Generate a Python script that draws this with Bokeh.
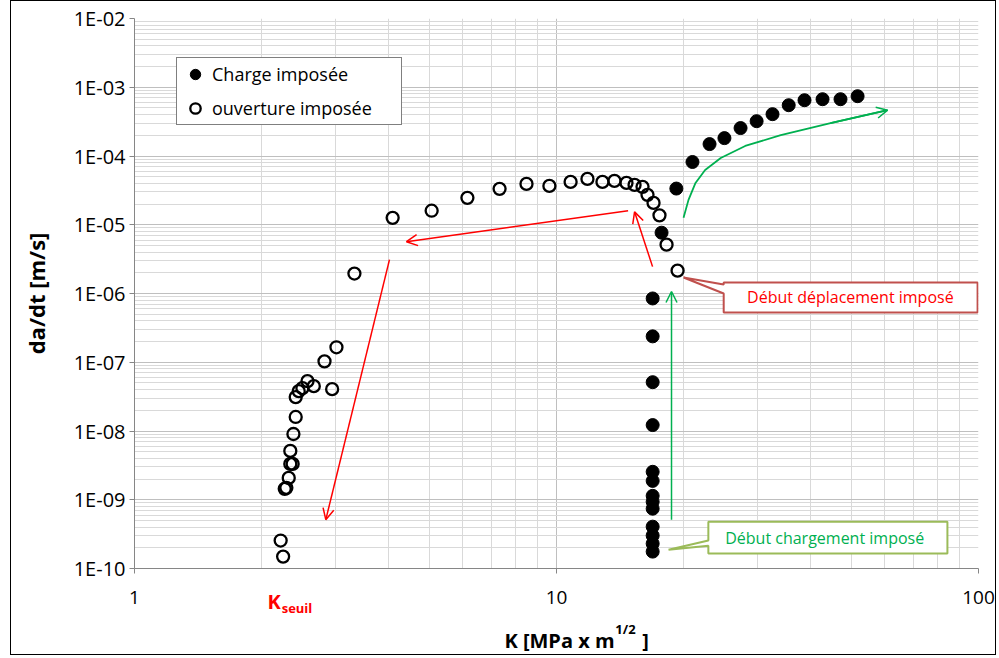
from bokeh.plotting import figure
from bokeh.models import (Range1d, FixedTicker, CustomJSTickFormatter, Legend, LegendItem,
                          Arrow, OpenHead, LinearAxis)
from bokeh.embed import file_html
from bokeh.resources import INLINE
from bokeh.core.properties import value

FONT = "Open Sans"

# ---------------- data ----------------
# Charge imposée (filled circles)
k_charge = [16.9, 16.9, 16.9, 16.9, 16.9, 16.9, 16.9, 16.9, 16.9, 16.9, 16.9, 16.9, 16.9,
            17.74, 19.23, 21.0, 23.05, 25.0, 27.3, 29.8, 32.5, 35.5, 38.7, 42.7, 47.1, 51.7]
v_charge = [8.47e-7, 2.38e-7, 5.13e-8, 1.22e-8, 2.55e-9, 1.88e-9, 1.14e-9, 9.35e-10, 7.41e-10,
            4.06e-10, 3.01e-10, 2.30e-10, 1.76e-10,
            7.66e-6, 3.36e-5, 8.18e-5, 1.49e-4, 1.82e-4, 2.55e-4, 3.21e-4, 4.06e-4, 5.48e-4,
            6.48e-4, 6.70e-4, 6.70e-4, 7.41e-4]

# ouverture imposée (open circles)
k_ouv = [2.22, 2.25, 2.27, 2.29, 2.32, 2.34, 2.37, 2.34, 2.38, 2.41, 2.41, 2.45, 2.50, 2.57,
         2.66, 2.94, 2.82, 3.01, 3.32, 4.09, 5.06, 6.15, 7.33, 8.49, 9.62, 10.8, 11.84, 12.85,
         13.72, 14.65, 15.31, 15.99, 16.43, 16.98, 17.54, 18.23, 19.36]
v_ouv = [2.55e-10, 1.49e-10, 1.44e-9, 1.49e-9, 2.08e-9, 3.32e-9, 3.32e-9, 5.13e-9, 9.05e-9,
         1.60e-8, 3.11e-8, 3.80e-8, 4.20e-8, 5.31e-8, 4.49e-8, 4.06e-8, 1.03e-7, 1.65e-7,
         1.95e-6, 1.26e-5, 1.60e-5, 2.46e-5, 3.33e-5, 3.93e-5, 3.67e-5, 4.20e-5, 4.64e-5,
         4.20e-5, 4.34e-5, 4.06e-5, 3.80e-5, 3.56e-5, 2.72e-5, 2.08e-5, 1.37e-5, 5.13e-6, 2.15e-6]

# annotation arrows
red_x0 = [16.89, 14.78, 4.02]
red_y0 = [2.46e-6, 1.60e-5, 3.11e-6]
red_x1 = [15.31, 4.41, 2.84]
red_y1 = [1.54e-5, 5.67e-6, 5.13e-10]
green_arrow_x = [18.73, 18.73]
green_arrow_y = [5.13e-10, 1.07e-6]
green_curve_k = [20.0, 20.55, 21.35, 22.5, 24.5, 28.0, 34.0, 44.6, 60.9]
green_curve_v = [1.26e-5, 2.30e-5, 4.06e-5, 6.27e-5, 9.35e-5, 1.40e-4, 2.01e-4, 3.01e-4, 4.64e-4]

# callouts (polygon outline with pointer)
call1_x = [24.9, 99.5, 99.5, 24.9, 24.9, 20.0, 24.9]
call1_y = [1.44e-6, 1.44e-6, 5.31e-7, 5.31e-7, 1.0e-6, 1.71e-6, 1.35e-6]
call1_text = "Début déplacement imposé"
call1_pos = (49.7, 8.75e-7)
call2_x = [22.9, 84.4, 84.4, 22.9, 22.9, 18.43, 22.9]
call2_y = [4.80e-10, 4.80e-10, 1.65e-10, 1.65e-10, 2.15e-10, 1.88e-10, 2.55e-10]
call2_text = "Début chargement imposé"
call2_pos = (43.2, 2.81e-10)

x_ticks = [1, 10, 100]
y_ticks = [1e-10, 1e-9, 1e-8, 1e-7, 1e-6, 1e-5, 1e-4, 1e-3, 1e-2]
x_minor = [2, 3, 4, 5, 6, 7, 8, 9, 20, 30, 40, 50, 60, 70, 80, 90]
y_minor = [m * t for t in y_ticks[:-1] for m in (2, 3, 4, 5, 6, 7, 8, 9)]

# texts below the frame, set as tick labels of label-only axes (x position = K value)
kseuil_k_pos, kseuil_k_text = [2.141], ["K"]
kseuil_sub_pos, kseuil_sub_text = [2.427], ["seuil"]
xlabel_main_pos, xlabel_main_text = [10.165, 16.25], ["K [MPa x m", "]"]
xlabel_sup_pos, xlabel_sup_text = [14.57], ["1/2"]

# ---------------- figure ----------------
p = figure(width=986, height=655, x_axis_type="log", y_axis_type="log",
           x_range=Range1d(1, 100), y_range=Range1d(1e-10, 1e-2),
           output_backend="svg", toolbar_location=None,
           min_border_left=123, min_border_right=19, min_border_top=17, min_border_bottom=86)
p.styles = {"border": "1px solid #000000", "margin-left": "10px"}
p.outline_line_color = None
p.background_fill_color = "white"
p.border_fill_color = "white"

xt = FixedTicker(ticks=x_ticks, minor_ticks=x_minor)
yt = FixedTicker(ticks=y_ticks, minor_ticks=y_minor)
p.xaxis.ticker = xt
p.yaxis.ticker = yt
p.xgrid.ticker = xt
p.ygrid.ticker = yt
for g in (p.xgrid, p.ygrid):
    g.grid_line_color = "#bfbfbf"
    g.grid_line_width = 1
    g.minor_grid_line_color = "#d9d9d9"
    g.minor_grid_line_width = 1

p.xaxis.formatter = CustomJSTickFormatter(code="return String(Math.round(tick));")
p.yaxis.formatter = CustomJSTickFormatter(code="""
const e = Math.round(Math.log10(tick));
const a = Math.abs(e);
return "1E" + (e < 0 ? "-" : "+") + (a < 10 ? "0" + a : String(a));
""")
for ax in (p.xaxis, p.yaxis):
    ax.axis_line_color = "#868686"
    ax.major_tick_line_color = "#868686"
    ax.major_tick_out = 5
    ax.major_tick_in = 0
    ax.minor_tick_line_color = None
    ax.major_label_text_font = FONT
    ax.major_label_text_color = "#000000"
p.xaxis.major_label_text_font_size = "19px"
p.yaxis.major_label_text_font_size = "20px"
p.xaxis.major_label_standoff = 17
p.yaxis.major_label_standoff = 4
p.yaxis.axis_label = "da/dt [m/s]"
p.yaxis.axis_label_text_font = FONT
p.yaxis.axis_label_text_font_size = "22px"
p.yaxis.axis_label_text_font_style = "bold"
p.yaxis.axis_label_text_color = "#000000"
p.yaxis.axis_label_standoff = 20


def text_axis(pos, texts, size, color, standoff):
    ax = LinearAxis(ticker=FixedTicker(ticks=pos, minor_ticks=[]),
                    formatter=CustomJSTickFormatter(args=dict(labels=texts),
                                                    code="return labels[index];"))
    ax.axis_line_color = None
    ax.major_tick_line_color = None
    ax.minor_tick_line_color = None
    ax.major_tick_out = 0
    ax.major_tick_in = 0
    ax.minor_tick_out = 0
    ax.minor_tick_in = 0
    ax.major_label_standoff = standoff
    ax.major_label_text_font = FONT
    ax.major_label_text_font_size = size
    ax.major_label_text_font_style = "bold"
    ax.major_label_text_color = color
    p.add_layout(ax, "below")


text_axis(kseuil_sub_pos, kseuil_sub_text, "13px", "#ff0000", -8)
text_axis(kseuil_k_pos, kseuil_k_text, "20px", "#ff0000", -32)
text_axis(xlabel_sup_pos, xlabel_sup_text, "13px", "#000000", 0)
text_axis(xlabel_main_pos, xlabel_main_text, "20px", "#000000", -14)

# ---------------- annotations drawn under the data ----------------
p.patch(call1_x, call1_y, fill_color="white", line_color="#c0504d", line_width=2)
p.patch(call2_x, call2_y, fill_color="white", line_color="#9bbb59", line_width=2)
p.text(x=[call1_pos[0]], y=[call1_pos[1]], text=[call1_text], text_color="#ff0000",
       text_font=value(FONT), text_font_size="16px", text_align="center", text_baseline="middle")
p.text(x=[call2_pos[0]], y=[call2_pos[1]], text=[call2_text], text_color="#00b050",
       text_font=value(FONT), text_font_size="16px", text_align="center", text_baseline="middle")

for i in range(len(red_x0)):
    p.add_layout(Arrow(end=OpenHead(size=11, line_color="#ff0000", line_width=1.5),
                       x_start=red_x0[i], y_start=red_y0[i], x_end=red_x1[i], y_end=red_y1[i],
                       line_color="#ff0000", line_width=1.5))
p.add_layout(Arrow(end=OpenHead(size=11, line_color="#00b050", line_width=1.5),
                   x_start=green_arrow_x[0], y_start=green_arrow_y[0],
                   x_end=green_arrow_x[1], y_end=green_arrow_y[1],
                   line_color="#00b050", line_width=1.5))
p.line(green_curve_k, green_curve_v, line_color="#00b050", line_width=1.8)
p.add_layout(Arrow(end=OpenHead(size=11, line_color="#00b050", line_width=1.5),
                   x_start=green_curve_k[-2], y_start=green_curve_v[-2],
                   x_end=green_curve_k[-1], y_end=green_curve_v[-1],
                   line_color="#00b050", line_width=1.8))

# ---------------- data ----------------
r_ch = p.scatter(k_charge, v_charge, marker="circle", size=13, fill_color="black",
                 line_color="black", line_width=1)
r_ou = p.scatter(k_ouv, v_ouv, marker="circle", size=12, fill_alpha=0,
                 line_color="black", line_width=2.3)

legend = Legend(items=[LegendItem(label="Charge imposée", renderers=[r_ch]),
                       LegendItem(label="ouverture imposée", renderers=[r_ou])],
                location=(42, 443), orientation="vertical")
legend.label_text_font = FONT
legend.label_text_font_size = "18px"
legend.label_text_color = "#000000"
legend.border_line_color = "black"
legend.border_line_width = 1
legend.background_fill_color = "white"
legend.background_fill_alpha = 1
legend.glyph_width = 30
legend.glyph_height = 26
legend.label_standoff = 2
legend.label_width = 186
legend.padding = 3
legend.spacing = 8
legend.margin = 0
p.add_layout(legend)

open("out.html", "w").write(file_html(p, INLINE))
